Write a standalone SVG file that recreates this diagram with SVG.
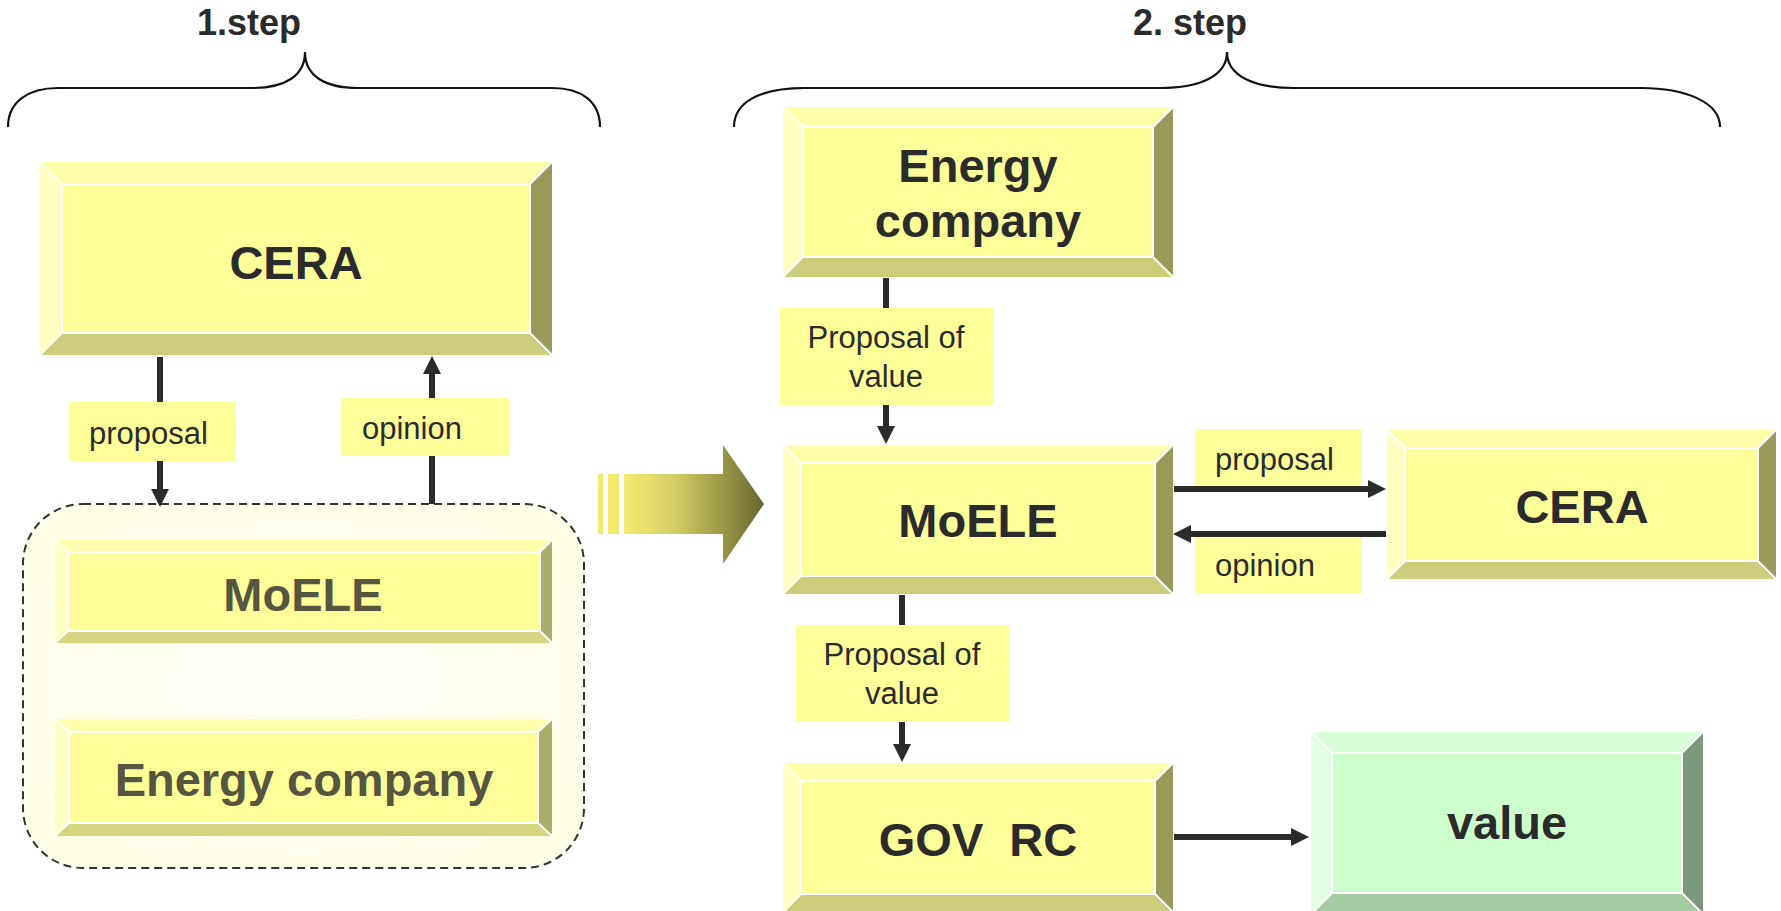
<svg xmlns="http://www.w3.org/2000/svg" width="1781" height="911" viewBox="0 0 1781 911">
<style>
.t{font-family:"Liberation Sans",Arial,sans-serif;fill:#2b2b2b}
.b{font-weight:bold;font-size:47px}
.h{font-weight:bold;font-size:36px}
.l{font-size:31px}
.dim{fill:#555540}
.yt{fill:#ffffaa}.yl{fill:#ffffc2}.yr{fill:#99995a}.yb{fill:#cccc7a}.yf{fill:#ffff99}
.ft{fill:#ffffad}.fl{fill:#ffffc4}.fr{fill:#adad6b}.fb{fill:#d6d680}
.gt{fill:#d9ffd9}.gl{fill:#e2ffe2}.gr{fill:#7a997a}.gb{fill:#a3cca3}.gf{fill:#ccffcc}
.sep{fill:none;stroke:#ffffff;stroke-width:2}
.lab{fill:#ffff99}
.con{stroke:#2b2b2b;stroke-width:6;fill:none}
.brace{fill:none;stroke:#111;stroke-width:2.2}
</style>
<defs>
<marker id="ah" markerUnits="userSpaceOnUse" markerWidth="18" markerHeight="18" refX="2" refY="9" orient="auto">
<path d="M0,0 L18,9 L0,18 z" fill="#2b2b2b"/>
</marker>
<linearGradient id="bigarrow" x1="624" y1="0" x2="764" y2="0" gradientUnits="userSpaceOnUse">
<stop offset="0" stop-color="#f0ea70"/>
<stop offset="0.35" stop-color="#d6d066"/>
<stop offset="1" stop-color="#686830"/>
</linearGradient>
<radialGradient id="cont" cx="0.5" cy="0.5" r="0.6">
<stop offset="0" stop-color="#fffff4"/>
<stop offset="1" stop-color="#ffffe8"/>
</radialGradient>
</defs>

<g id="titles">
<text class="t h" x="249" y="35" text-anchor="middle">1.step</text>
<text class="t h" x="1190" y="35" text-anchor="middle">2. step</text>
<path class="brace" d="M8,127 C8,102 28,88 58,88 L252,88 C285,88 305,76 305,52 C305,76 325,88 358,88 L552,88 C582,88 600,102 600,127"/>
<path class="brace" d="M734,127 C734,102 760,88 805,88 L1160,88 C1200,88 1227,76 1227,52 C1227,76 1254,88 1294,88 L1641,88 C1685,88 1720,102 1720,127"/>
</g>

<g id="group-step1">
<rect x="23" y="504" width="561" height="364" rx="60" ry="60" fill="url(#cont)" stroke="#333" stroke-width="2" stroke-dasharray="8,5"/>
</g>

<g id="cera1">
<polygon class="yt" points="40,162 552,162 530,184 62,184"/>
<polygon class="yl" points="40,162 62,184 62,333 40,355"/>
<polygon class="yr" points="552,162 552,355 530,333 530,184"/>
<polygon class="yb" points="40,355 62,333 530,333 552,355"/>
<rect class="yf" x="62" y="184" width="468" height="149"/>
<path class="sep" d="M62,184 H530 V333 H62 Z M40,162 L62,184 M552,162 L530,184 M40,355 L62,333 M552,355 L530,333"/>
<text class="t b" x="296" y="279" text-anchor="middle">CERA</text>
</g>

<g id="moele1">
<polygon class="ft" points="55,540 552,540 540,552 68,552"/>
<polygon class="fl" points="55,540 68,552 68,631 55,643"/>
<polygon class="fr" points="552,540 552,643 540,631 540,552"/>
<polygon class="fb" points="55,643 68,631 540,631 552,643"/>
<rect class="yf" x="68" y="552" width="472" height="79"/>
<path class="sep" d="M68,552 H540 V631 H68 Z M55,540 L68,552 M552,540 L540,552 M55,643 L68,631 M552,643 L540,631"/>
<text class="t b dim" x="303" y="611" text-anchor="middle">MoELE</text>
</g>

<g id="energy1">
<polygon class="ft" points="55,719 552,719 538,732 69,732"/>
<polygon class="fl" points="55,719 69,732 69,823 55,836"/>
<polygon class="fr" points="552,719 552,836 538,823 538,732"/>
<polygon class="fb" points="55,836 69,823 538,823 552,836"/>
<rect class="yf" x="69" y="732" width="469" height="91"/>
<path class="sep" d="M69,732 H538 V823 H69 Z M55,719 L69,732 M552,719 L538,732 M55,836 L69,823 M552,836 L538,823"/>
<text class="t b dim" x="304" y="796" text-anchor="middle">Energy company</text>
</g>

<g id="bigarrow-g">
<rect x="598" y="474" width="5" height="60" fill="#f0ea6e"/>
<rect x="608" y="474" width="11" height="60" fill="#f0ea6e"/>
<polygon points="624,474 723,474 723,445 764,504 723,564 723,534 624,534" fill="url(#bigarrow)"/>
</g>

<g id="energy2">
<polygon class="yt" points="783,107 1173,107 1153,127 803,127"/>
<polygon class="yl" points="783,107 803,127 803,257 783,277"/>
<polygon class="yr" points="1173,107 1173,277 1153,257 1153,127"/>
<polygon class="yb" points="783,277 803,257 1153,257 1173,277"/>
<rect class="yf" x="803" y="127" width="350" height="130"/>
<path class="sep" d="M803,127 H1153 V257 H803 Z M783,107 L803,127 M1173,107 L1153,127 M783,277 L803,257 M1173,277 L1153,257"/>
<text class="t b" x="978" y="182" text-anchor="middle">Energy</text>
<text class="t b" x="978" y="237" text-anchor="middle">company</text>
</g>

<g id="moele2">
<polygon class="yt" points="783,445 1173,445 1155,463 801,463"/>
<polygon class="yl" points="783,445 801,463 801,576 783,594"/>
<polygon class="yr" points="1173,445 1173,594 1155,576 1155,463"/>
<polygon class="yb" points="783,594 801,576 1155,576 1173,594"/>
<rect class="yf" x="801" y="463" width="354" height="113"/>
<path class="sep" d="M801,463 H1155 V576 H801 Z M783,445 L801,463 M1173,445 L1155,463 M783,594 L801,576 M1173,594 L1155,576"/>
<text class="t b" x="978" y="537" text-anchor="middle">MoELE</text>
</g>

<g id="cera2">
<polygon class="yt" points="1387,430 1776,430 1758,448 1405,448"/>
<polygon class="yl" points="1387,430 1405,448 1405,561 1387,579"/>
<polygon class="yr" points="1776,430 1776,579 1758,561 1758,448"/>
<polygon class="yb" points="1387,579 1405,561 1758,561 1776,579"/>
<rect class="yf" x="1405" y="448" width="353" height="113"/>
<path class="sep" d="M1405,448 H1758 V561 H1405 Z M1387,430 L1405,448 M1776,430 L1758,448 M1387,579 L1405,561 M1776,579 L1758,561"/>
<text class="t b" x="1582" y="523" text-anchor="middle">CERA</text>
</g>

<g id="govrc">
<polygon class="yt" points="783,763 1173,763 1155,781 801,781"/>
<polygon class="yl" points="783,763 801,781 801,894 783,912"/>
<polygon class="yr" points="1173,763 1173,912 1155,894 1155,781"/>
<polygon class="yb" points="783,912 801,894 1155,894 1173,912"/>
<rect class="yf" x="801" y="781" width="354" height="113"/>
<path class="sep" d="M801,781 H1155 V894 H801 Z M783,763 L801,781 M1173,763 L1155,781 M783,912 L801,894 M1173,912 L1155,894"/>
<text class="t b" x="978" y="856" text-anchor="middle" style="white-space:pre">GOV  RC</text>
</g>

<g id="value">
<polygon class="gt" points="1311,732 1703,732 1682,753 1332,753"/>
<polygon class="gl" points="1311,732 1332,753 1332,893 1311,914"/>
<polygon class="gr" points="1703,732 1703,914 1682,893 1682,753"/>
<polygon class="gb" points="1311,914 1332,893 1682,893 1703,914"/>
<rect class="gf" x="1332" y="753" width="350" height="140"/>
<path class="sep" d="M1332,753 H1682 V893 H1332 Z M1311,732 L1332,753 M1703,732 L1682,753 M1311,914 L1332,893 M1703,914 L1682,893"/>
<text class="t b" x="1507" y="839" text-anchor="middle">value</text>
</g>

<g id="connectors">
<line class="con" x1="160" y1="357" x2="160" y2="491" marker-end="url(#ah)"/>
<line class="con" x1="432" y1="504" x2="432" y2="372" marker-end="url(#ah)"/>
<line class="con" x1="886" y1="278" x2="886" y2="428" marker-end="url(#ah)"/>
<line class="con" x1="902" y1="595" x2="902" y2="746" marker-end="url(#ah)"/>
<rect class="lab" x="1195" y="429" width="167" height="61"/>
<rect class="lab" x="1195" y="537" width="167" height="56"/>
<line class="con" x1="1174" y1="489" x2="1370" y2="489" marker-end="url(#ah)"/>
<line class="con" x1="1386" y1="534" x2="1189" y2="534" marker-end="url(#ah)"/>
<line class="con" x1="1174" y1="837" x2="1293" y2="837" marker-end="url(#ah)"/>
</g>

<g id="labels">
<rect class="lab" x="69" y="402" width="167" height="59"/>
<text class="t l" x="89" y="444">proposal</text>
<rect class="lab" x="341" y="398" width="168" height="58"/>
<text class="t l" x="362" y="439">opinion</text>
<rect class="lab" x="780" y="308" width="213" height="97"/>
<text class="t l" x="886" y="348" text-anchor="middle">Proposal of</text>
<text class="t l" x="886" y="387" text-anchor="middle">value</text>
<rect class="lab" x="796" y="625" width="213" height="97"/>
<text class="t l" x="902" y="665" text-anchor="middle">Proposal of</text>
<text class="t l" x="902" y="704" text-anchor="middle">value</text>
<text class="t l" x="1215" y="470">proposal</text>
<text class="t l" x="1215" y="576">opinion</text>
</g>
</svg>
